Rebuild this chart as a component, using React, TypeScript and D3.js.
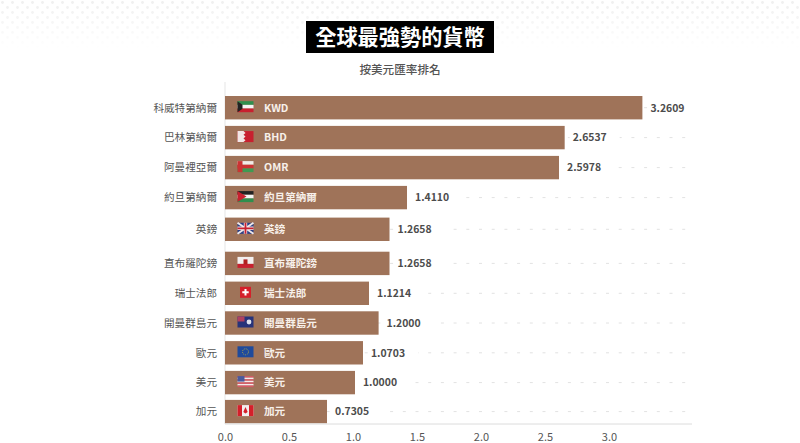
import React, { useEffect, useRef } from "react";
import * as d3 from "d3";

const CATEGORIES = ["科威特第納爾", "巴林第納爾", "阿曼裡亞爾", "約旦第納爾", "英鎊", "直布羅陀鎊", "瑞士法郎", "開曼群島元", "歐元", "美元", "加元"];
const BAR_LABELS = ["KWD", "BHD", "OMR", "約旦第納爾", "英鎊", "直布羅陀鎊", "瑞士法郎", "開曼群島元", "歐元", "美元", "加元"];
const FLAGS = ["kw", "bh", "om", "jo", "gb", "gi", "ch", "ky", "eu", "us", "ca"];
// drawn bar lengths (they run a little longer than the printed rates)
const BAR_VALUES = [3.2609, 2.6537, 2.6094, 1.4219, 1.2852, 1.2852, 1.125, 1.2, 1.0781, 1.0156, 0.7969];
const VALUE_LABELS = ["3.2609", "2.6537", "2.5978", "1.4110", "1.2658", "1.2658", "1.1214", "1.2000", "1.0703", "1.0000", "0.7305"];
const X_TICKS = [0, 0.5, 1, 1.5, 2, 2.5, 3];

const TITLE = "全球最強勢的貨幣";
const SUBTITLE = "按美元匯率排名";

const WIDTH = 800;
const HEIGHT = 443;
const FONT = "'Noto Sans CJK TC', 'Noto Sans', sans-serif";
const BAR_COLOR = "#9f7359";
const BAR_HEIGHT = 23.4;
const AXIS_LEFT = 225;
const AXIS_RIGHT = 692;
const AXIS_Y = 424;
const ROW_CENTERS = [107.7, 137.6, 167.6, 197.6, 229.3, 263.4, 293.3, 323, 352.8, 382.6, 411.6];

const x = d3.scaleLinear().domain([0, 3]).range([AXIS_LEFT, 609]);
const y = d3.scaleOrdinal<string, number>().domain(CATEGORIES).range(ROW_CENTERS);

// small flag icons, 16x11 around the origin
function Flag({ code }: { code: string }) {
  const stripes = (colors: string[]) =>
    colors.map((c, i) => <rect key={i} x={-8} y={-5.5 + (i * 11) / colors.length} width={16} height={11 / colors.length} fill={c} />);
  switch (code) {
    case "kw":
      return <g>{stripes(["#2f8f4e", "#f4f4f4", "#c8202f"])}<polygon points="-8,-5.5 -3,-2 -3,2 -8,5.5" fill="#222" /></g>;
    case "bh":
      return <g><rect x={-8} y={-5.5} width={16} height={11} fill="#c8202f" /><polygon points="-8,-5.5 -2,-5.5 0,-3.7 -2,-1.8 0,0 -2,1.8 0,3.7 -2,5.5 -8,5.5" fill="#f1e6e6" /></g>;
    case "om":
      return <g>{stripes(["#f0ece8", "#cc3333", "#3f9a52"])}<rect x={-8} y={-5.5} width={5} height={11} fill="#cc3333" /></g>;
    case "jo":
      return <g>{stripes(["#222", "#f4f4f4", "#2f8f4e"])}<polygon points="-8,-5.5 1,0 -8,5.5" fill="#c8202f" /></g>;
    case "gb":
      return <g>
        <rect x={-8} y={-5.5} width={16} height={11} fill="#2a3f85" />
        <path d="M-8,-5.5L8,5.5M8,-5.5L-8,5.5" stroke="#f0e8e8" strokeWidth={2} />
        <path d="M-8,0H8M0,-5.5V5.5" stroke="#f0e8e8" strokeWidth={3.4} />
        <path d="M-8,0H8M0,-5.5V5.5" stroke="#c8202f" strokeWidth={1.8} />
      </g>;
    case "gi":
      return <g><rect x={-8} y={-5.5} width={16} height={7} fill="#f2eeee" /><rect x={-8} y={1.5} width={16} height={4} fill="#c8202f" /><rect x={-2} y={-3} width={4} height={5} fill="#b02020" /></g>;
    case "ch":
      return <g><rect x={-5.5} y={-5.5} width={11} height={11} fill="#d4202a" /><path d="M0,-3.2V3.2M-3.2,0H3.2" stroke="#fff" strokeWidth={2} /></g>;
    case "ky":
      return <g><rect x={-8} y={-5.5} width={16} height={11} fill="#27337a" /><rect x={-8} y={-5.5} width={7} height={5} fill="#b04060" /><circle cx={3.5} cy={0} r={2.4} fill="#dfe3ee" /></g>;
    case "eu":
      return <g><rect x={-8} y={-5.5} width={16} height={11} fill="#1f4a9c" /><circle cx={0} cy={0} r={3} fill="none" stroke="#c9b23a" strokeWidth={0.8} strokeDasharray="1 1" /></g>;
    case "us":
      return <g>
        {stripes(["#d65a66", "#f4eaea", "#d65a66", "#f4eaea", "#d65a66", "#f4eaea", "#d65a66"])}
        <rect x={-8} y={-5.5} width={7} height={5.5} fill="#4a5a9c" />
      </g>;
    default:
      return <g><rect x={-8} y={-5.5} width={16} height={11} fill="#f2eeee" /><rect x={-8} y={-5.5} width={4.5} height={11} fill="#d4202a" /><rect x={3.5} y={-5.5} width={4.5} height={11} fill="#d4202a" /><polygon points="0,-3.5 2.2,1.5 0,3 -2.2,1.5" fill="#d4202a" /></g>;
  }
}

export default function App() {
  const axisRef = useRef<SVGGElement>(null);

  useEffect(() => {
    const axis = d3.axisBottom(x).tickValues(X_TICKS).tickFormat(d3.format(".1f")).tickSize(0).tickPadding(9);
    const g = d3.select(axisRef.current).call(axis as any);
    g.select(".domain").remove();
    g.selectAll("text").attr("font-family", FONT).attr("font-size", 11).attr("fill", "#555");
  }, []);

  return (
    <svg width={WIDTH} height={HEIGHT} viewBox={`0 0 ${WIDTH} ${HEIGHT}`} fontFamily={FONT}
      style={{ position: "absolute", left: 0, top: 0, display: "block", background: "#fff" }}>
      <defs>
        <pattern id="halftone" width={10} height={10} patternUnits="userSpaceOnUse">
          <circle cx={2.5} cy={2.5} r={1.4} fill="#efefef" />
          <circle cx={7.5} cy={7.5} r={1.4} fill="#efefef" />
        </pattern>
        <linearGradient id="fade" x1="0" y1="0" x2="0" y2="1">
          <stop offset="0" stopColor="#fff" stopOpacity={1} />
          <stop offset="1" stopColor="#fff" stopOpacity={0} />
        </linearGradient>
        <mask id="fadeMask">
          <rect width={WIDTH} height={50} fill="url(#fade)" />
        </mask>
      </defs>
      <rect width={WIDTH} height={50} fill="url(#halftone)" mask="url(#fadeMask)" />

      <rect x={306} y={21} width={188} height={32} fill="#000" />
      <text x={400} y={45} textAnchor="middle" fontSize={21.2} fontWeight={700} fill="#fff">{TITLE}</text>
      <text x={400} y={74} textAnchor="middle" fontSize={11.6} fontWeight={500} fill="#555">{SUBTITLE}</text>

      <line x1={AXIS_LEFT} x2={AXIS_LEFT} y1={82} y2={AXIS_Y} stroke="#eee" strokeWidth={1.5} />

      {CATEGORIES.map((c) => (
        <line key={c} x1={AXIS_LEFT} x2={AXIS_RIGHT} y1={y(c)} y2={y(c)} stroke="#e2e2e2" strokeWidth={1} strokeDasharray="3 9.7" />
      ))}

      {CATEGORIES.map((c, i) => {
        const cy = y(c);
        const end = x(BAR_VALUES[i]);
        return (
          <g key={c}>
            <text x={217} y={cy + 3.8} textAnchor="end" fontSize={10.6} fill="#555">{c}</text>
            <rect x={AXIS_LEFT} y={cy - BAR_HEIGHT / 2} width={end - AXIS_LEFT} height={BAR_HEIGHT} fill={BAR_COLOR} />
            <g transform={`translate(245.5,${cy - 1})`}><Flag code={FLAGS[i]} /></g>
            <text x={264} y={cy + 3.8} fontSize={10.6} fontWeight={700} fill="#f7f0ea">{BAR_LABELS[i]}</text>
            <rect x={end + 5} y={cy - 8} width={50} height={16} fill="#fff" />
            <text x={end + 8} y={cy + 3.8} fontSize={10.4} fontWeight={700} fill="#4c4c4c">{VALUE_LABELS[i]}</text>
          </g>
        );
      })}

      <line x1={AXIS_LEFT} x2={AXIS_RIGHT} y1={AXIS_Y} y2={AXIS_Y} stroke="#dcdcdc" strokeWidth={1} />
      <g ref={axisRef} transform={`translate(0,${AXIS_Y})`} />
    </svg>
  );
}
